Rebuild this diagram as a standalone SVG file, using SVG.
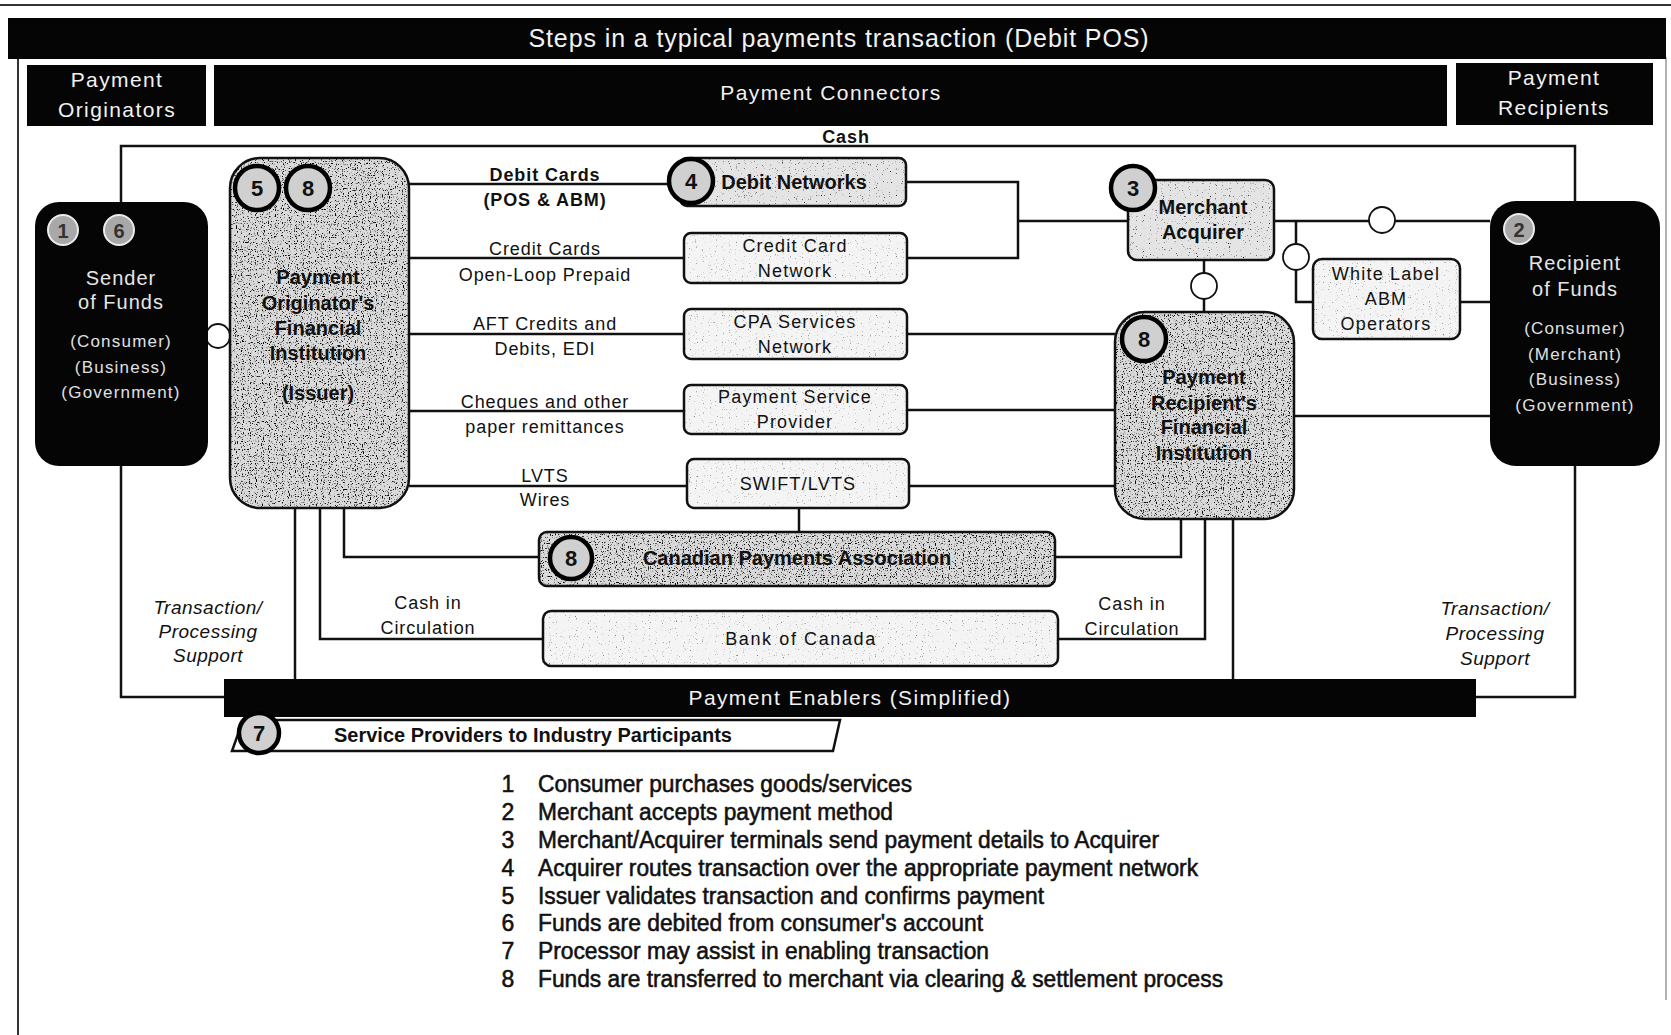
<svg xmlns="http://www.w3.org/2000/svg" width="1671" height="1035" viewBox="0 0 1671 1035">
<style>
text{font-family:"Liberation Sans",Arial,sans-serif;fill:#111}
.hdr{fill:#f2f2f2;font-size:21px;letter-spacing:1.4px;text-anchor:middle}
.wt{fill:#e6e6e6;font-size:20px;letter-spacing:1px;text-anchor:middle}
.wts{fill:#e0e0e0;font-size:17px;letter-spacing:1.2px;text-anchor:middle}
.bn{font-weight:bold;font-size:20px;text-anchor:middle}
.nt{font-size:18px;letter-spacing:1.2px;text-anchor:middle}
.lbl{font-size:18px;letter-spacing:0.9px;text-anchor:middle}
.it{font-style:italic;font-size:19px;letter-spacing:0.5px;text-anchor:middle}
.num{font-weight:bold;font-size:22px;text-anchor:middle}
.lst{font-size:23px;stroke:#111;stroke-width:0.55}
.black{fill:#050505}
.box{stroke:#111;stroke-width:2.5}
.light{fill:#f4f4f4}
.mid{fill:#e4e4e4}
.heavy{fill:#dadada}
.ncirc{fill:#d0d0d0;stroke:#000;stroke-width:4.5}
.wcirc{fill:#a8a8a8;stroke:#ececec;stroke-width:2}
.scirc{fill:#fff;stroke:#111;stroke-width:1.8}
.conn path{fill:none;stroke:#111;stroke-width:2.5}
</style>
<defs>
<filter id="spkH" x="0" y="0" width="1" height="1">
<feTurbulence type="fractalNoise" baseFrequency="0.85" numOctaves="1" seed="4" result="t"/>
<feColorMatrix in="t" type="matrix" values="0 0 0 0 0  0 0 0 0 0  0 0 0 0 0  7 0 0 0 -3.95" result="m"/>
<feComposite in="m" in2="SourceAlpha" operator="in"/>
</filter>
<filter id="spkL" x="0" y="0" width="1" height="1">
<feTurbulence type="fractalNoise" baseFrequency="0.85" numOctaves="1" seed="9" result="t"/>
<feColorMatrix in="t" type="matrix" values="0 0 0 0 0  0 0 0 0 0  0 0 0 0 0  7 0 0 0 -4.6" result="m"/>
<feComposite in="m" in2="SourceAlpha" operator="in"/>
</filter>
</defs>

<rect width="1671" height="1035" fill="#fff"/>

<g id="frame">
<line x1="0" y1="5" x2="1671" y2="5" stroke="#333" stroke-width="2"/>
<line x1="18" y1="57" x2="18" y2="1035" stroke="#333" stroke-width="2"/>
<line x1="1666" y1="57" x2="1666" y2="1000" stroke="#999" stroke-width="1.5"/>
</g>

<g id="title">
<rect x="8" y="18" width="1658" height="41" class="black"/>
<text x="839" y="47" class="hdr" style="font-size:25px;letter-spacing:0.9px">Steps in a typical payments transaction (Debit POS)</text>
</g>
<g id="hdr-originators">
<rect x="27" y="65" width="179" height="61" class="black"/>
<text x="117" y="87" class="hdr">Payment</text>
<text x="117" y="117" class="hdr">Originators</text>
</g>
<g id="hdr-connectors">
<rect x="214" y="65" width="1233" height="61" class="black"/>
<text x="831" y="100" class="hdr">Payment Connectors</text>
</g>
<g id="hdr-recipients">
<rect x="1456" y="63" width="197" height="62" class="black"/>
<text x="1554" y="85" class="hdr">Payment</text>
<text x="1554" y="115" class="hdr">Recipients</text>
</g>

<g id="connectors" class="conn">
<path d="M224,697 H121 V146 H1575 V697 H1476"/>
<path d="M409,184 H669"/>
<path d="M409,258 H684"/>
<path d="M409,334 H684"/>
<path d="M409,411 H684"/>
<path d="M409,486 H687"/>
<path d="M906,182 H1018 V258 H907"/>
<path d="M1018,221 H1128"/>
<path d="M907,334 H1115"/>
<path d="M907,410 H1115"/>
<path d="M909,486 H1115"/>
<path d="M1274,221 H1490"/>
<path d="M1296,221 V302 H1313"/>
<path d="M1460,302 H1490"/>
<path d="M1204,260 V312"/>
<path d="M1294,416 H1490"/>
<path d="M799,508 V532"/>
<path d="M295,508 V679"/>
<path d="M320,508 V639 H543"/>
<path d="M344,508 V557 H539"/>
<path d="M1181,519 V557 H1055"/>
<path d="M1205,519 V639 H1058"/>
<path d="M1233,519 V679"/>
<text x="846" y="143" class="lbl" font-weight="bold">Cash</text>
<text x="545" y="181" class="lbl" font-weight="bold">Debit Cards</text>
<text x="545" y="206" class="lbl" font-weight="bold">(POS &amp; ABM)</text>
<text x="545" y="255" class="lbl">Credit Cards</text>
<text x="545" y="281" class="lbl">Open-Loop Prepaid</text>
<text x="545" y="330" class="lbl">AFT Credits and</text>
<text x="545" y="355" class="lbl">Debits, EDI</text>
<text x="545" y="408" class="lbl">Cheques and other</text>
<text x="545" y="433" class="lbl">paper remittances</text>
<text x="545" y="482" class="lbl">LVTS</text>
<text x="545" y="506" class="lbl">Wires</text>
<text x="428" y="609" class="lbl">Cash in</text>
<text x="428" y="634" class="lbl">Circulation</text>
<text x="1132" y="610" class="lbl">Cash in</text>
<text x="1132" y="635" class="lbl">Circulation</text>
<text x="208" y="614" class="it">Transaction/</text>
<text x="208" y="638" class="it">Processing</text>
<text x="208" y="662" class="it">Support</text>
<text x="1495" y="615" class="it">Transaction/</text>
<text x="1495" y="640" class="it">Processing</text>
<text x="1495" y="665" class="it">Support</text>
<circle cx="218" cy="336" r="12" class="scirc"/>
<circle cx="1382" cy="220" r="13" class="scirc"/>
<circle cx="1296" cy="257" r="13" class="scirc"/>
<circle cx="1204" cy="286" r="13" class="scirc"/>
</g>

<g id="sender">
<rect x="35" y="202" width="173" height="264" rx="24" class="black"/>
<circle cx="63" cy="230" r="15" class="wcirc"/>
<text x="63" y="238" class="num" style="font-size:20px;fill:#333">1</text>
<circle cx="119" cy="230" r="15" class="wcirc"/>
<text x="119" y="238" class="num" style="font-size:20px;fill:#333">6</text>
<text x="121" y="285" class="wt">Sender</text>
<text x="121" y="309" class="wt">of Funds</text>
<text x="121" y="347" class="wts">(Consumer)</text>
<text x="121" y="373" class="wts">(Business)</text>
<text x="121" y="398" class="wts">(Government)</text>
</g>

<g id="originator-fi">
<rect x="230" y="158" width="179" height="350" rx="30" class="heavy"/>
<rect x="230" y="158" width="179" height="350" rx="30" fill="#000" filter="url(#spkH)"/>
<rect x="230" y="158" width="179" height="350" rx="30" fill="none" class="box"/>
<circle cx="257" cy="188" r="22" class="ncirc"/>
<text x="257" y="196" class="num">5</text>
<circle cx="308" cy="188" r="22" class="ncirc"/>
<text x="308" y="196" class="num">8</text>
<text x="318" y="284" class="bn">Payment</text>
<text x="318" y="310" class="bn">Originator's</text>
<text x="318" y="335" class="bn">Financial</text>
<text x="318" y="360" class="bn">Institution</text>
<text x="318" y="400" class="bn">(Issuer)</text>
</g>

<g id="debit-networks">
<rect x="680" y="158" width="226" height="48" rx="7" class="mid"/>
<rect x="680" y="158" width="226" height="48" rx="7" fill="#000" filter="url(#spkL)"/>
<rect x="680" y="158" width="226" height="48" rx="7" fill="none" class="box"/>
<circle cx="691" cy="181" r="22" class="ncirc"/>
<text x="691" y="189" class="num">4</text>
<text x="794" y="189" class="bn">Debit Networks</text>
</g>
<g id="credit-card-network">
<rect x="684" y="233" width="223" height="50" rx="7" class="light box"/>
<rect x="684" y="233" width="223" height="50" rx="7" fill="#000" filter="url(#spkL)" opacity="0.5"/>
<text x="795" y="252" class="nt">Credit Card</text>
<text x="795" y="277" class="nt">Network</text>
</g>
<g id="cpa-services-network">
<rect x="684" y="309" width="223" height="50" rx="7" class="light box"/>
<rect x="684" y="309" width="223" height="50" rx="7" fill="#000" filter="url(#spkL)" opacity="0.5"/>
<text x="795" y="328" class="nt">CPA Services</text>
<text x="795" y="353" class="nt">Network</text>
</g>
<g id="payment-service-provider">
<rect x="684" y="385" width="223" height="49" rx="7" class="light box"/>
<rect x="684" y="385" width="223" height="49" rx="7" fill="#000" filter="url(#spkL)" opacity="0.5"/>
<text x="795" y="403" class="nt">Payment Service</text>
<text x="795" y="428" class="nt">Provider</text>
</g>
<g id="swift-lvts">
<rect x="687" y="459" width="222" height="49" rx="7" class="light box"/>
<rect x="687" y="459" width="222" height="49" rx="7" fill="#000" filter="url(#spkL)" opacity="0.5"/>
<text x="798" y="490" class="nt">SWIFT/LVTS</text>
</g>

<g id="cpa">
<rect x="539" y="532" width="516" height="54" rx="8" class="heavy"/>
<rect x="539" y="532" width="516" height="54" rx="8" fill="#000" filter="url(#spkH)"/>
<rect x="539" y="532" width="516" height="54" rx="8" fill="none" class="box"/>
<circle cx="571" cy="558" r="21" class="ncirc"/>
<text x="571" y="566" class="num">8</text>
<text x="797" y="565" class="bn">Canadian Payments Association</text>
</g>

<g id="bank-of-canada">
<rect x="543" y="611" width="515" height="55" rx="8" class="light box"/>
<rect x="543" y="611" width="515" height="55" rx="8" fill="#000" filter="url(#spkL)" opacity="0.5"/>
<text x="801" y="645" class="nt" style="letter-spacing:1.6px">Bank of Canada</text>
</g>

<g id="merchant-acquirer">
<rect x="1128" y="180" width="146" height="80" rx="9" class="mid"/>
<rect x="1128" y="180" width="146" height="80" rx="9" fill="#000" filter="url(#spkL)"/>
<rect x="1128" y="180" width="146" height="80" rx="9" fill="none" class="box"/>
<circle cx="1133" cy="188" r="22" class="ncirc"/>
<text x="1133" y="196" class="num">3</text>
<text x="1203" y="214" class="bn">Merchant</text>
<text x="1203" y="239" class="bn">Acquirer</text>
</g>

<g id="white-label-abm">
<rect x="1313" y="259" width="147" height="80" rx="9" class="light box"/>
<rect x="1313" y="259" width="147" height="80" rx="9" fill="#000" filter="url(#spkL)" opacity="0.5"/>
<text x="1386" y="280" class="nt">White Label</text>
<text x="1386" y="305" class="nt">ABM</text>
<text x="1386" y="330" class="nt">Operators</text>
</g>

<g id="recipient-fi">
<rect x="1115" y="312" width="179" height="207" rx="30" class="heavy"/>
<rect x="1115" y="312" width="179" height="207" rx="30" fill="#000" filter="url(#spkH)"/>
<rect x="1115" y="312" width="179" height="207" rx="30" fill="none" class="box"/>
<circle cx="1144" cy="339" r="22" class="ncirc"/>
<text x="1144" y="347" class="num">8</text>
<text x="1204" y="384" class="bn">Payment</text>
<text x="1204" y="410" class="bn">Recipient's</text>
<text x="1204" y="434" class="bn">Financial</text>
<text x="1204" y="460" class="bn">Institution</text>
</g>

<g id="recipient">
<rect x="1490" y="201" width="170" height="265" rx="26" class="black"/>
<circle cx="1519" cy="229" r="15" class="wcirc"/>
<text x="1519" y="237" class="num" style="font-size:20px;fill:#333">2</text>
<text x="1575" y="270" class="wt">Recipient</text>
<text x="1575" y="296" class="wt">of Funds</text>
<text x="1575" y="334" class="wts">(Consumer)</text>
<text x="1575" y="360" class="wts">(Merchant)</text>
<text x="1575" y="385" class="wts">(Business)</text>
<text x="1575" y="411" class="wts">(Government)</text>
</g>

<g id="payment-enablers">
<rect x="224" y="679" width="1252" height="38" class="black"/>
<text x="850" y="705" class="hdr">Payment Enablers (Simplified)</text>
</g>
<g id="service-providers">
<polygon points="243,720 840,720 833,751 232,751" fill="#fff" stroke="#111" stroke-width="2.5"/>
<circle cx="259" cy="733" r="20" class="ncirc"/>
<text x="259" y="741" class="num">7</text>
<text x="334" y="742" font-weight="bold" font-size="20">Service Providers to Industry Participants</text>
</g>

<g id="legend">
<text x="508" y="792" class="lst" text-anchor="middle">1</text>
<text x="538" y="792" class="lst" textLength="374" lengthAdjust="spacingAndGlyphs">Consumer purchases goods/services</text>
<text x="508" y="820" class="lst" text-anchor="middle">2</text>
<text x="538" y="820" class="lst" textLength="355" lengthAdjust="spacingAndGlyphs">Merchant accepts payment method</text>
<text x="508" y="848" class="lst" text-anchor="middle">3</text>
<text x="538" y="848" class="lst" textLength="621" lengthAdjust="spacingAndGlyphs">Merchant/Acquirer terminals send payment details to Acquirer</text>
<text x="508" y="876" class="lst" text-anchor="middle">4</text>
<text x="538" y="876" class="lst" textLength="660" lengthAdjust="spacingAndGlyphs">Acquirer routes transaction over the appropriate payment network</text>
<text x="508" y="904" class="lst" text-anchor="middle">5</text>
<text x="538" y="904" class="lst" textLength="506" lengthAdjust="spacingAndGlyphs">Issuer validates transaction and confirms payment</text>
<text x="508" y="931" class="lst" text-anchor="middle">6</text>
<text x="538" y="931" class="lst" textLength="445" lengthAdjust="spacingAndGlyphs">Funds are debited from consumer's account</text>
<text x="508" y="959" class="lst" text-anchor="middle">7</text>
<text x="538" y="959" class="lst" textLength="451" lengthAdjust="spacingAndGlyphs">Processor may assist in enabling transaction</text>
<text x="508" y="987" class="lst" text-anchor="middle">8</text>
<text x="538" y="987" class="lst" textLength="685" lengthAdjust="spacingAndGlyphs">Funds are transferred to merchant via clearing &amp; settlement process</text>
</g>
</svg>
